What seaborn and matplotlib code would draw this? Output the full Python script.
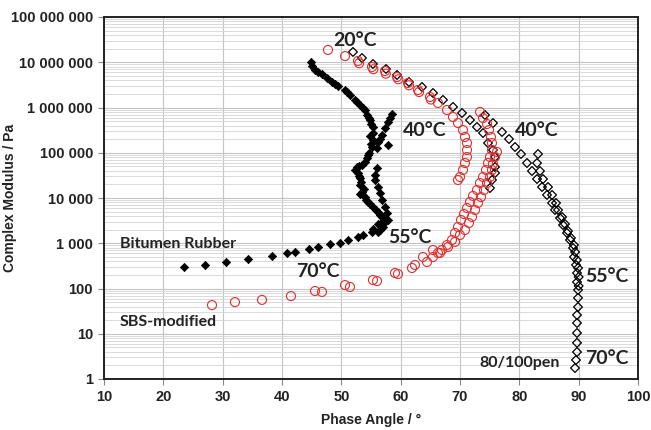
import matplotlib
matplotlib.use("Agg")
import matplotlib.pyplot as plt
import numpy as np
import pandas as pd
import seaborn as sns
from matplotlib.ticker import LogLocator, FuncFormatter, NullFormatter

# ---------------- data (phase angle in degrees, complex modulus in Pa) ----------------
pen_phase = [51.96, 53.48, 55.33, 57.53, 59.38, 61.40, 63.59, 65.45, 67.13, 68.82, 70.34, 71.68,
             72.86, 73.88, 74.72, 75.56, 75.90, 75.90, 75.90, 75.39, 75.05,
             74.21, 75.56, 77.08, 78.26, 79.27, 80.28, 81.29, 82.13, 82.98, 83.82, 84.66, 85.51,
             86.01, 86.85, 87.36, 88.03, 88.54, 89.05, 89.21, 89.55, 89.72, 89.72, 89.89, 89.89,
             89.89, 89.72, 89.72, 89.72, 89.72, 89.72, 89.55, 89.38,
             83.15, 82.98, 83.48, 83.99, 84.83, 85.51, 86.18, 86.52, 87.20, 87.70, 88.20, 88.70,
             89.20, 89.40, 89.70, 89.90, 90.00, 90.00]
pen_modulus = [1.69e7, 1.24e7, 9.15e6, 7.10e6, 5.23e6, 3.66e6, 2.84e6, 2.09e6, 1.47e6, 1.03e6, 7.56e5, 5.29e5,
               3.71e5, 2.73e5, 1.64e5, 1.15e5, 8.05e4, 4.84e4, 3.57e4, 2.50e4, 1.66e4,
               6.83e5, 4.54e5, 2.88e5, 2.01e5, 1.34e5, 9.38e4, 5.93e4, 3.95e4, 2.63e4, 1.75e4, 1.17e4, 7.76e3,
               5.43e3, 3.61e3, 2.53e3, 1.69e3, 1.18e3, 785, 497, 331, 220, 139, 93, 62,
               39, 26, 17.3, 10.4, 6.3, 3.95, 2.63, 1.75,
               9.38e4, 5.93e4, 3.95e4, 2.63e4, 1.75e4, 1.17e4, 7.76e3, 5.43e3, 3.81e3, 2.66e3, 1.87e3, 1.31e3,
               915, 641, 426, 284, 180, 114]

sbs_phase = [47.75, 50.62, 52.81, 55.17, 57.36, 59.38, 61.23, 62.92, 64.94, 66.29, 67.81, 68.82,
             69.66, 70.50, 70.84, 71.18, 71.18, 71.18, 70.84, 70.50, 70.00, 69.66,
             53.0, 55.4, 57.5, 59.6, 61.4, 63.1, 65.1,
             73.37, 73.88, 74.55, 74.89, 75.22, 75.39, 75.39, 75.05, 74.72, 74.38, 73.88, 73.37,
             72.86, 72.19, 71.68, 71.18, 70.67, 70.17, 69.66, 69.16, 68.65, 67.81, 66.96, 66.29, 65.45,
             76.23, 75.90, 75.56, 75.39, 75.05, 74.55, 74.04, 73.54, 73.03, 72.53, 72.02, 71.51,
             70.84, 70.00, 69.16, 67.98, 66.63, 65.45, 64.44, 63.76, 62.41, 61.91, 59.55, 59.04,
             56.01, 55.33, 51.46, 50.62, 46.74, 45.56, 41.51, 36.63, 32.07, 28.20]
sbs_modulus = [1.87e7, 1.37e7, 1.07e7, 7.85e6, 6.41e6, 4.72e6, 3.48e6, 2.44e6, 1.71e6, 1.26e6, 8.8e5, 6.17e5,
               4.54e5, 3.18e5, 2.23e5, 1.64e5, 1.15e5, 8.05e4, 5.93e4, 4.16e4, 2.91e4, 2.50e4,
               9.5e6, 7.0e6, 5.6e6, 4.2e6, 3.1e6, 2.2e6, 1.5e6,
               7.96e5, 5.86e5, 4.32e5, 3.18e5, 2.23e5, 1.64e5, 1.15e5, 8.05e4, 5.93e4, 4.16e4, 2.91e4, 2.14e4,
               1.50e4, 1.11e4, 8.16e3, 6.01e3, 4.43e3, 3.27e3, 2.29e3, 1.69e3, 1.18e3, 915, 709, 609, 709,
               1.04e5, 8.05e4, 5.64e4, 4.16e4, 2.91e4, 2.14e4, 1.50e4, 1.05e4, 7.76e3, 5.43e3, 3.81e3, 2.80e3,
               1.96e3, 1.52e3, 1.07e3, 826, 609, 497, 385, 497, 331, 284, 209, 220,
               146, 154, 108, 119, 84, 88, 68, 56, 50, 43]

br_phase = [23.5, 27.0, 30.6, 34.3, 38.3, 40.8, 42.2, 44.6, 46.1, 48.1, 49.8, 51.1, 52.8, 53.7, 55.2, 55.3, 56.2, 56.9,
            44.9, 45.1, 45.6, 46.7, 47.6, 48.4, 49.4, 50.6, 51.5, 52.3, 53.1, 54.0, 54.3, 54.8, 55.3, 55.3, 55.3, 55.2,
            54.7, 54.3, 54.0, 53.5, 52.6, 52.3, 52.8, 53.1, 53.1, 53.5, 54.0, 54.5, 55.3, 56.2, 56.9, 57.4, 57.0, 56.2,
            46.0, 49.0, 51.0, 52.7, 53.6, 54.6, 55.0, 54.9, 55.0, 54.5, 53.0, 52.9, 53.3, 53.8, 53.2, 54.2, 54.9, 55.8,
            56.6, 57.2, 56.6,
            58.5, 58.2, 57.9, 57.4, 56.9, 56.5, 56.2, 56.0, 57.9, 56.0, 55.7, 55.7, 56.2, 56.5, 56.9, 57.4, 57.7, 57.9]
br_modulus = [300, 330, 385, 450, 520, 610, 640, 750, 830, 960, 1010, 1180, 1370, 1520, 1770, 2070, 2660, 2950,
              1.01e7, 8.27e6, 6.75e6, 5.5e6, 4.49e6, 3.66e6, 2.99e6, 2.44e6, 1.89e6, 1.47e6, 1.14e6, 8.8e5, 6.8e5,
              5.3e5, 3.7e5, 2.73e5, 1.91e5, 1.34e5,
              9.9e4, 7.65e4, 6.25e4, 5.36e4, 4.84e4, 4.16e4, 3.57e4, 2.77e4, 1.94e4, 1.36e4, 1.05e4, 8.16e3, 6.3e3,
              4.9e3, 3.8e3, 2.95e3, 2.29e3, 1.77e3,
              6.1e6, 3.3e6, 2.15e6, 1.3e6, 1.0e6, 6.0e5, 4.4e5, 2.3e5, 1.6e5, 8.8e4, 5.1e4, 3.1e4, 2.3e4, 1.6e4,
              1.2e4, 9.2e3, 7.2e3, 5.5e3, 4.3e3, 3.4e3, 2.0e3,
              7.2e5, 5.86e5, 4.78e5, 3.52e5, 2.47e5, 2.01e5, 1.71e5, 1.27e5, 1.48e5, 4.6e4, 3.22e4, 2.5e4, 1.75e4,
              1.29e4, 9.0e3, 6.3e3, 4.66e3, 3.27e3]

x_ticks = [10, 20, 30, 40, 50, 60, 70, 80, 90, 100]
y_ticks = [1, 10, 100, 1000, 10000, 100000, 1000000, 10000000, 100000000]

# ---------------- plotting ----------------
sns.set_theme(style="white")
plt.rcParams["font.family"] = ["Liberation Sans", "DejaVu Sans"]

fig = plt.figure(figsize=(6.51, 4.30), dpi=100)
ax = fig.add_axes([104 / 651, 1 - 379 / 430, (638 - 104) / 651, (379 - 17) / 430])

pen = pd.DataFrame({"phase": pen_phase, "modulus": pen_modulus})
sbs = pd.DataFrame({"phase": sbs_phase, "modulus": sbs_modulus})
br = pd.DataFrame({"phase": br_phase, "modulus": br_modulus})

sns.scatterplot(data=pen, x="phase", y="modulus", ax=ax, marker="D", s=20,
                facecolor="none", edgecolor="black", linewidth=0.9, zorder=3)
sns.scatterplot(data=sbs, x="phase", y="modulus", ax=ax, marker="o", s=42,
                facecolor="none", edgecolor="#dd3030", linewidth=0.8, zorder=3)
sns.scatterplot(data=br, x="phase", y="modulus", ax=ax, marker="D", s=18,
                color="black", edgecolor="black", linewidth=0.5, zorder=4)

ax.set_yscale("log")
ax.set_xlim(10, 100)
ax.set_ylim(1, 1e8)
ax.set_xticks(x_ticks)
ax.set_yticks(y_ticks)
ax.yaxis.set_minor_locator(LogLocator(base=10, subs=np.arange(2, 10)))
ax.yaxis.set_minor_formatter(NullFormatter())
ax.yaxis.set_major_formatter(FuncFormatter(lambda v, p: f"{int(round(v)):,}".replace(",", " ")))
ax.set_xticklabels([str(t) for t in x_ticks])

ax.set_axisbelow(True)
ax.grid(which="major", axis="both", color="#c4c4c4", linewidth=0.8)
ax.grid(which="minor", axis="y", color="#d4d4d4", linewidth=0.6)

for sp in ax.spines.values():
    sp.set_visible(True)
    sp.set_color("#222222")
    sp.set_linewidth(1.4)

ax.tick_params(which="major", direction="out", length=4, width=0.8, color="#888888",
               labelsize=10.5, pad=4, left=True, bottom=True)
ax.tick_params(which="minor", length=0)
for lab in ax.get_xticklabels() + ax.get_yticklabels():
    lab.set_fontweight("bold")
    lab.set_color("#222222")

ax.set_xlabel("Phase Angle / °", fontsize=10, fontweight="bold", color="#222222")
ax.set_ylabel("Complex Modulus / Pa", fontsize=10, fontweight="bold", color="#222222")
ax.xaxis.set_label_coords((371 - 104) / 534, (379 - 413) / 362)
ax.yaxis.set_label_coords((17 - 104) / 534, 0.5)

ann = dict(family=["Lato", "DejaVu Sans"], fontweight="bold", color="#222222")
ax.text(52.3, 3.1e7, "20°C", fontsize=14, ha="center", va="center", **ann)
ax.text(64.1, 3.18e5, "40°C", fontsize=14, ha="center", va="center", **ann)
ax.text(83.0, 3.18e5, "40°C", fontsize=14, ha="center", va="center", **ann)
ax.text(61.6, 1.31e3, "55°C", fontsize=14, ha="center", va="center", **ann)
ax.text(94.8, 180, "55°C", fontsize=14, ha="center", va="center", **ann)
ax.text(46.1, 240, "70°C", fontsize=14, ha="center", va="center", **ann)
ax.text(94.8, 2.9, "70°C", fontsize=14, ha="center", va="center", **ann)
ax.text(12.7, 962, "Bitumen Rubber", fontsize=11.5, ha="left", va="center", **ann)
ax.text(12.7, 18.2, "SBS-modified", fontsize=11.5, ha="left", va="center", **ann)
ax.text(73.3, 2.26, "80/100pen", fontsize=11.5, ha="left", va="center", **ann)

fig.savefig("out.png", dpi=100)
